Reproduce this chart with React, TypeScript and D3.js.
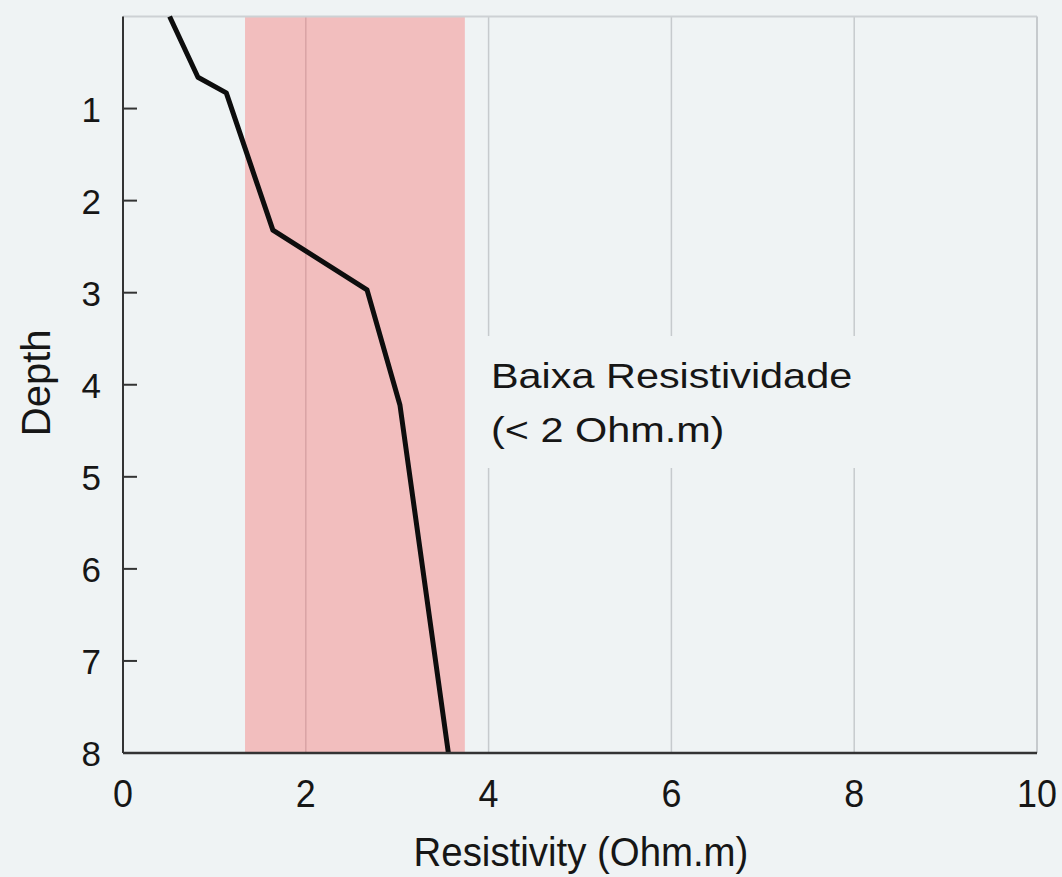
import React from "react";
import * as d3 from "d3";

const resistivity = [0.51, 0.82, 1.13, 1.64, 2.67, 3.03, 3.56];
const depth = [0, 0.66, 0.83, 2.32, 2.97, 4.22, 8];
const xTicks = [0, 2, 4, 6, 8, 10];
const yTicks = [1, 2, 3, 4, 5, 6, 7, 8];
const gridValues = [2, 4, 6, 8];
const bandRange = [1.335, 3.74];
const labelLines = ["Baixa Resistividade", "(< 2 Ohm.m)"];

const W = 1062;
const H = 877;
const left = 123;
const right = 1037;
const top = 16.5;
const bottom = 753;
const font = "'Liberation Sans', Arial, sans-serif";
const bg = "#eff3f4";
const ink = "#161616";

export default function App() {
  const x = d3.scaleLinear().domain([0, 10]).range([left, right]);
  const y = d3.scaleLinear().domain([0, 8]).range([top, bottom]);
  const pts = depth.map((d, i) => [resistivity[i], d] as [number, number]);
  const line = d3
    .line<[number, number]>()
    .x((p) => x(p[0]))
    .y((p) => y(p[1]));

  return (
    <svg
      width={W}
      height={H}
      style={{ position: "absolute", left: 0, top: 0 }}
      fontFamily={font}
    >
      <rect x={0} y={0} width={W} height={H} fill={bg} />
      <rect
        x={x(bandRange[0])}
        y={top}
        width={x(bandRange[1]) - x(bandRange[0])}
        height={bottom - top}
        fill="#f2bebe"
      />
      {gridValues.map((g) => (
        <line
          key={g}
          x1={x(g)}
          x2={x(g)}
          y1={top}
          y2={bottom}
          stroke={g === 2 ? "#d9a3a5" : "#c6cacd"}
          strokeWidth={1.5}
        />
      ))}
      <line x1={left} x2={right} y1={top} y2={top} stroke="#cdd1d4" strokeWidth={2} />
      <line x1={right} x2={right} y1={top} y2={bottom} stroke="#c6cacd" strokeWidth={2} />
      <rect x={476} y={336} width={400} height={132} fill={bg} />
      {labelLines.map((t, i) => (
        <text
          key={i}
          transform={`translate(491, ${388 + i * 54}) scale(1.15, 1)`}
          fontSize={36}
          fill={ink}
        >
          {t}
        </text>
      ))}
      <path d={line(pts) || ""} fill="none" stroke="#0d0d0d" strokeWidth={5} strokeLinejoin="round" />
      <line x1={left} x2={left} y1={top} y2={bottom} stroke="#333" strokeWidth={2} />
      <line x1={left} x2={right} y1={bottom} y2={bottom} stroke="#333" strokeWidth={2.5} />
      {yTicks.map((t) => (
        <g key={t}>
          {t < 8 && (
            <line x1={left} x2={left + 14} y1={y(t)} y2={y(t)} stroke="#333" strokeWidth={2} />
          )}
          <text x={101} y={y(t) + 13} fontSize={35} textAnchor="end" fill={ink}>
            {t}
          </text>
        </g>
      ))}
      {xTicks.map((t) => (
        <text
          key={t}
          transform={`translate(${x(t)}, 807) scale(0.92, 1)`}
          fontSize={39}
          textAnchor="middle"
          fill={ink}
        >
          {t}
        </text>
      ))}
      <text
        transform="translate(581, 866) scale(0.96, 1)"
        fontSize={40}
        textAnchor="middle"
        fill={ink}
      >
        Resistivity (Ohm.m)
      </text>
      <text
        transform={`translate(50, ${(top + bottom) / 2 - 2}) rotate(-90)`}
        fontSize={40}
        textAnchor="middle"
        fill={ink}
      >
        Depth
      </text>
    </svg>
  );
}
